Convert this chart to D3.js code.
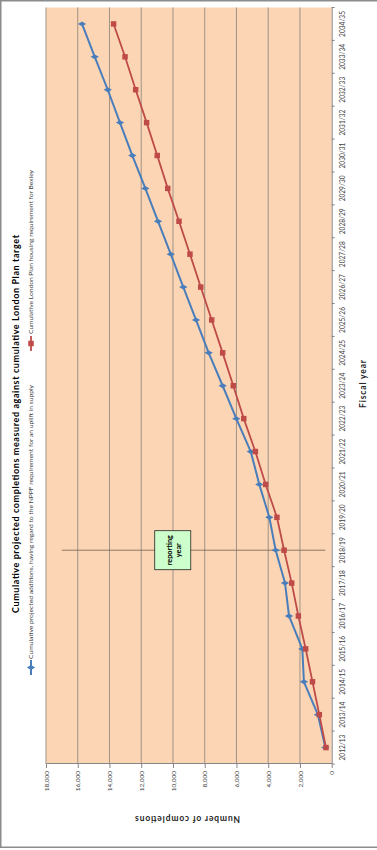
<!DOCTYPE html>
<html>
<head>
<meta charset="utf-8">
<script src="https://cdn.jsdelivr.net/npm/d3@7"></script>
<style>
  html, body { margin: 0; padding: 0; background: #fff; }
  text { font-family: Lato, "Liberation Sans", sans-serif; }
</style>
</head>
<body>
<div id="chart"></div>
<script>
// data
const years = ["2012/13","2013/14","2014/15","2015/16","2016/17","2017/18","2018/19","2019/20",
  "2020/21","2021/22","2022/23","2023/24","2024/25","2025/26","2026/27","2027/28","2028/29",
  "2029/30","2030/31","2031/32","2032/33","2033/34","2034/35"];
const projected = [400, 870, 1750, 1850, 2690, 2940, 3530, 3930, 4560, 5100, 6010, 6870,
  7750, 8550, 9350, 10140, 10940, 11740, 12560, 13340, 14110, 14930, 15730];
const londonPlan = [360, 780, 1210, 1640, 2100, 2520, 3000, 3450, 4160, 4810, 5540, 6200,
  6870, 7560, 8250, 8930, 9620, 10330, 10990, 11660, 12350, 13020, 13740];
const valueTicks = [0, 2000, 4000, 6000, 8000, 10000, 12000, 14000, 16000, 18000];
const reportingYear = "2018/19";

const seriesNames = [
  "Cumulative projected additions, having regard to the NPPF requirement for an uplift in supply",
  "Cumulative London Plan housing requirement for Bexley"
];

// 1) svg, the chart is drawn in its own frame then turned a quarter left
const svg = d3.select("#chart").append("svg")
  .attr("width", 377)
  .attr("height", 850);

svg.append("rect")
  .attr("x", 0.75).attr("y", 0.75)
  .attr("width", 390).attr("height", 846.5)
  .attr("fill", "#fff")
  .attr("stroke", "#8c8c8c")
  .attr("stroke-width", 1.5);

const W = 850;
const margin = { top: 46, right: 7.5, bottom: 45.3, left: 86 };
const plotW = W - margin.left - margin.right;
const plotH = 377 - margin.top - margin.bottom;

const g = svg.append("g")
  .attr("transform", `translate(0,${W}) rotate(-90)`);

// 2) scales
const xBand = d3.scaleBand().domain(years)
  .range([margin.left, margin.left + plotW]).padding(0);
const x = d => xBand(d) + xBand.bandwidth() / 2;
const y = d3.scaleLinear().domain([0, 18000])
  .range([margin.top + plotH, margin.top]);

const blue = "#4a7ebb", red = "#be4b48";

// 3) plot area + gridlines
g.append("rect")
  .attr("x", margin.left).attr("y", margin.top)
  .attr("width", plotW).attr("height", plotH)
  .attr("fill", "#fcd5b5");

g.append("g")
  .selectAll("line")
  .data(valueTicks.filter(d => d > 0))
  .join("line")
    .attr("x1", margin.left).attr("x2", margin.left + plotW)
    .attr("y1", d => y(d)).attr("y2", d => y(d))
    .attr("stroke", "#a09384")
    .attr("stroke-width", 1);

// 4) axes
const yAxis = g.append("g")
  .attr("transform", `translate(${margin.left},0)`)
  .call(d3.axisLeft(y).tickValues(valueTicks)
    .tickFormat(d3.format(",")).tickSize(4).tickPadding(3).tickSizeOuter(0));
yAxis.select(".domain").attr("stroke", "#868686");
yAxis.selectAll(".tick line").attr("stroke", "#868686");
yAxis.selectAll("text")
  .attr("font-size", "6.5px")
  .attr("fill", "#404040");

const xAxis = g.append("g")
  .attr("transform", `translate(0,${y(0)})`)
  .call(d3.axisBottom(xBand).tickSize(0).tickPadding(9));
xAxis.select(".domain").attr("stroke", "#868686");
xAxis.selectAll("text")
  .attr("font-size", "6.6px")
  .attr("fill", "#404040");

// ticks between categories
const lastEdge = xBand(years[years.length - 1]) + xBand.bandwidth();
g.append("g")
  .selectAll("line")
  .data(years.map(d => xBand(d)).concat([lastEdge]))
  .join("line")
    .attr("x1", d => d).attr("x2", d => d)
    .attr("y1", y(0)).attr("y2", y(0) + 3)
    .attr("stroke", "#868686");

// 5) reporting year marker
const rx = x(reportingYear);
g.append("line")
  .attr("x1", rx).attr("x2", rx)
  .attr("y1", y(17000)).attr("y2", y(400))
  .attr("stroke", "#6e5e52")
  .attr("stroke-width", 0.8);

const boxTop = y(11150), boxBot = y(8880);
g.append("rect")
  .attr("x", rx - 19.5).attr("y", boxTop)
  .attr("width", 39).attr("height", boxBot - boxTop)
  .attr("fill", "#ccffcc")
  .attr("stroke", "#222")
  .attr("stroke-width", 0.8);

g.append("text")
  .attr("x", rx).attr("y", boxTop + 17.5)
  .attr("text-anchor", "middle")
  .attr("font-size", "7.3px").attr("font-weight", "bold")
  .text("reporting");
g.append("text")
  .attr("x", rx).attr("y", boxTop + 26.5)
  .attr("text-anchor", "middle")
  .attr("font-size", "7.3px").attr("font-weight", "bold")
  .text("year");

// 6) lines + markers
const series = [
  { name: seriesNames[0], values: projected, color: blue, symbol: d3.symbolDiamond, size: 20, width: 2 },
  { name: seriesNames[1], values: londonPlan, color: red, symbol: d3.symbolSquare, size: 30, width: 1.8 }
];

const lineGen = d3.line()
  .x((d, i) => x(years[i]))
  .y(d => y(d));

series.forEach(s => {
  g.append("path")
    .datum(s.values)
    .attr("fill", "none")
    .attr("stroke", s.color)
    .attr("stroke-width", s.width)
    .attr("stroke-linejoin", "round")
    .attr("d", lineGen);

  g.append("g")
    .selectAll("path")
    .data(s.values)
    .join("path")
      .attr("transform", (d, i) => `translate(${x(years[i])},${y(d)})`)
      .attr("d", d3.symbol().type(s.symbol).size(s.size))
      .attr("fill", s.color);
});

// 7) title, legend, axis titles
g.append("text")
  .attr("x", 426).attr("y", 18.5)
  .attr("text-anchor", "middle")
  .attr("font-size", "9px").attr("font-weight", "bold")
  .attr("textLength", 378).attr("lengthAdjust", "spacing")
  .text("Cumulative projected completions measured against cumulative London Plan target");

const legendPos = [
  { x0: 175, tx: 191, len: 274 },
  { x0: 499, tx: 516, len: 164 }
];
series.forEach((s, i) => {
  const p = legendPos[i];
  const lg = g.append("g");
  lg.append("line")
    .attr("x1", p.x0).attr("x2", p.x0 + 15)
    .attr("y1", 31).attr("y2", 31)
    .attr("stroke", s.color).attr("stroke-width", s.width);
  lg.append("path")
    .attr("transform", `translate(${p.x0 + 7.5},31)`)
    .attr("d", d3.symbol().type(s.symbol).size(s.size))
    .attr("fill", s.color);
  lg.append("text")
    .attr("x", p.tx).attr("y", 33.3)
    .attr("font-size", "6.3px")
    .attr("fill", "#404040")
    .attr("textLength", p.len).attr("lengthAdjust", "spacingAndGlyphs")
    .text(s.name);
});

g.append("text")
  .attr("x", 466).attr("y", 366)
  .attr("text-anchor", "middle")
  .attr("font-size", "8.5px").attr("font-weight", "bold")
  .attr("fill", "#262626")
  .attr("textLength", 48).attr("lengthAdjust", "spacing")
  .text("Fiscal year");

g.append("text")
  .attr("transform", "translate(34,187.5) rotate(-90)")
  .attr("text-anchor", "middle")
  .attr("font-size", "8.5px").attr("font-weight", "bold")
  .attr("fill", "#262626")
  .attr("textLength", 105).attr("lengthAdjust", "spacing")
  .text("Number of completions");
</script>
</body>
</html>
